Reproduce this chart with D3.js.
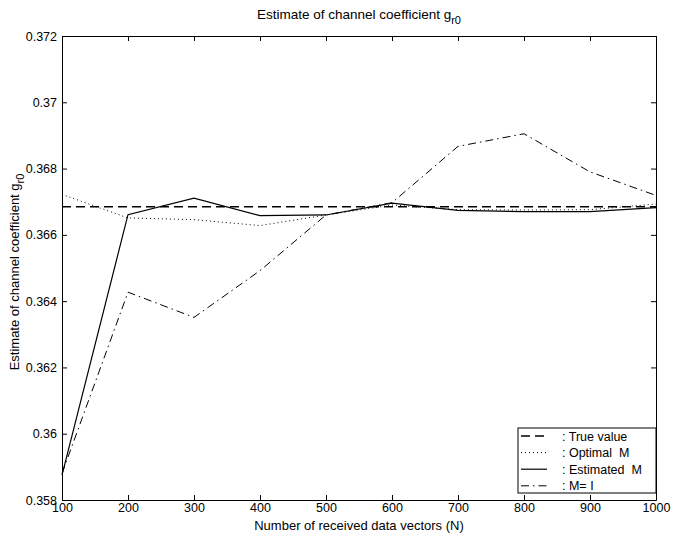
<html>
<head>
<style>
  body { margin: 0; background: #fff; }
  text { font-family: "Liberation Sans", Arial, sans-serif; fill: #000; white-space: pre; }
</style>
</head>
<body>
<svg id="chart" width="673" height="533"></svg>
<script src="https://d3js.org/d3.v7.min.js"></script>
<script>
// data
var nVectors = [100, 200, 300, 400, 500, 600, 700, 800, 900, 1000];
var trueValue = [0.36685, 0.36685, 0.36685, 0.36685, 0.36685, 0.36685, 0.36685, 0.36685, 0.36685, 0.36685];
var optimalM = [0.36722, 0.36651, 0.36646, 0.36628, 0.36660, 0.36690, 0.36676, 0.36675, 0.36676, 0.36693];
var estimatedM = [0.35875, 0.36661, 0.36711, 0.36658, 0.36660, 0.36696, 0.36674, 0.36670, 0.36670, 0.36682];
var identityM = [0.35880, 0.36427, 0.36351, 0.36492, 0.36660, 0.36697, 0.36867, 0.36905, 0.36790, 0.36719];
var yTicks = [0.358, 0.36, 0.362, 0.364, 0.366, 0.368, 0.37, 0.372];
var xTicks = [100, 200, 300, 400, 500, 600, 700, 800, 900, 1000];

var series = [
  {name: ": True value", values: trueValue, dash: "9,5", width: 1.6},
  {name: ": Optimal  M", values: optimalM, dash: "1,3", width: 1},
  {name: ": Estimated  M", values: estimatedM, dash: null, width: 1.2},
  {name: ": M= I", values: identityM, dash: "8,4,1.5,4", width: 1}
];

var mLeft = 62, mRight = 656, mTop = 36, mBottom = 500;
var svg = d3.select("#chart");

var x = d3.scaleLinear().domain([100, 1000]).range([mLeft, mRight]);
var y = d3.scaleLinear().domain([0.358, 0.372]).range([mBottom, mTop]);

// axes, inward ticks, mirrored on top and right
var fmt = d => String(+d.toFixed(3));
svg.append("g").attr("transform", "translate(0," + mBottom + ")")
  .call(d3.axisBottom(x).tickValues(xTicks).tickFormat(d3.format("d")).tickSizeInner(-5).tickSizeOuter(0).tickPadding(3))
  .call(g => g.selectAll("text").attr("font-size", 12.5));
svg.append("g").attr("transform", "translate(0," + mTop + ")")
  .call(d3.axisTop(x).tickValues(xTicks).tickSizeInner(-5).tickSizeOuter(0).tickFormat(""));
svg.append("g").attr("transform", "translate(" + mLeft + ",0)")
  .call(d3.axisLeft(y).tickValues(yTicks).tickFormat(fmt).tickSizeInner(-5).tickSizeOuter(0).tickPadding(5))
  .call(g => g.selectAll("text").attr("font-size", 12.5));
svg.append("g").attr("transform", "translate(" + mRight + ",0)")
  .call(d3.axisRight(y).tickValues(yTicks).tickSizeInner(-5).tickSizeOuter(0).tickFormat(""));
svg.selectAll(".domain").attr("stroke", "#000");
svg.selectAll(".tick line").attr("stroke", "#000");

var line = d3.line().x((d, i) => x(nVectors[i])).y(d => y(d));
series.forEach(function(s) {
  svg.append("path")
    .datum(s.values)
    .attr("d", line)
    .attr("fill", "none")
    .attr("stroke", "#000")
    .attr("stroke-width", s.width)
    .attr("stroke-dasharray", s.dash);
});

// legend
var lg = svg.append("g");
lg.append("rect").attr("x", 518).attr("y", 428).attr("width", 138).attr("height", 65)
  .attr("fill", "#fff").attr("stroke", "#000").attr("stroke-width", 1);
series.forEach(function(s, i) {
  var ly = 436 + i * 16.6;
  lg.append("line").attr("x1", 521).attr("x2", 547).attr("y1", ly).attr("y2", ly)
    .attr("stroke", "#000").attr("stroke-width", s.width).attr("stroke-dasharray", s.dash);
  lg.append("text").attr("x", 562).attr("y", ly + 4.5).attr("font-size", 12.5).text(s.name);
});

// title and labels
var title = svg.append("text").attr("x", 359).attr("y", 19).attr("text-anchor", "middle").attr("font-size", 13.5);
title.append("tspan").text("Estimate of channel coefficient g");
title.append("tspan").attr("dy", 5).attr("font-size", 11).text("r0");

svg.append("text").attr("x", 359).attr("y", 530).attr("text-anchor", "middle").attr("font-size", 13)
  .text("Number of received data vectors (N)");

var yl = svg.append("text").attr("transform", "translate(19," + 272 + ") rotate(-90)")
  .attr("text-anchor", "middle").attr("font-size", 13);
yl.append("tspan").text("Estimate of channel coefficient g");
yl.append("tspan").attr("dy", 5).attr("font-size", 11).text("r0");
</script>
</body>
</html>
